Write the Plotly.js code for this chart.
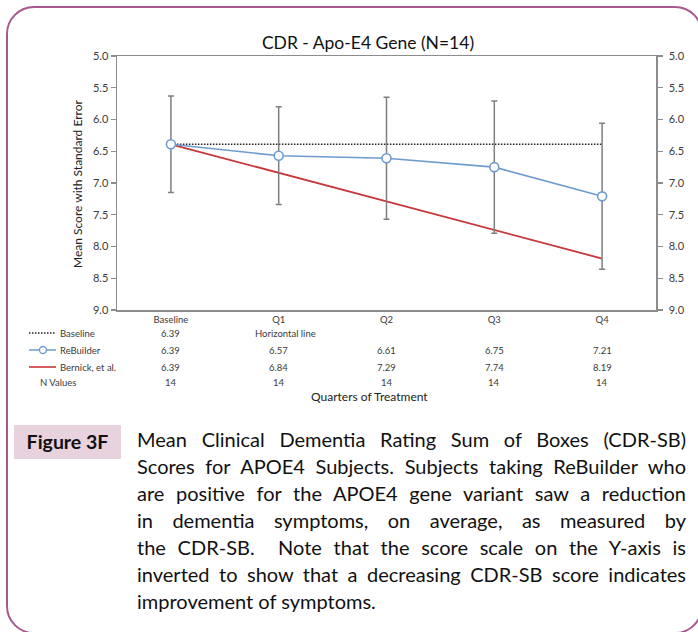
<!DOCTYPE html>
<html>
<head>
<meta charset="utf-8">
<script src="https://cdn.plot.ly/plotly-3.0.1.min.js"></script>
<style>
    html, body { margin: 0; padding: 0; background: #fff; overflow: hidden; }
    body { width: 698px; height: 632px; position: relative; font-family: Lato, "Open Sans", sans-serif; }
    #card {
        position: absolute; left: 6px; top: 6px; width: 697px; height: 628px;
        border: 2px solid #a8588f; border-radius: 28px; box-sizing: border-box;
    }
    #plot { position: absolute; left: 0; top: 0; width: 698px; height: 410px; }
    #figlabel {
        position: absolute; left: 14px; top: 425px; width: 107px; height: 34px;
        background: #e7d2de; font-weight: bold; font-size: 19.5px; line-height: 34px;
        text-align: center; color: #111;
    }
    #caption {
        position: absolute; left: 137px; top: 426px; width: 549px;
        font-size: 20px; line-height: 27px; color: #111; white-space: nowrap;
    }
    #caption div { text-align: justify; text-align-last: justify; }
    #caption div:last-child { text-align-last: left; }
</style>
</head>
<body>
<div id="card"></div>
<div id="plot"></div>
<div id="figlabel">Figure 3F</div>
<div id="caption">
    <div>Mean Clinical Dementia Rating Sum of Boxes (CDR-SB)</div>
    <div>Scores for APOE4 Subjects. Subjects taking ReBuilder who</div>
    <div>are positive for the APOE4 gene variant saw a reduction</div>
    <div>in dementia symptoms, on average, as measured by</div>
    <div>the CDR-SB.&nbsp; Note that the score scale on the Y-axis is</div>
    <div>inverted to show that a decreasing CDR-SB score indicates</div>
    <div>improvement of symptoms.</div>
</div>
<script>
// Chart data.
var quarters = ['Baseline', 'Q1', 'Q2', 'Q3', 'Q4'];
var baselineLine = [6.39, 6.39, 6.39, 6.39, 6.39];
var rebuilder = [6.39, 6.57, 6.61, 6.75, 7.21];
var rebuilderErr = [0.76, 0.77, 0.96, 1.04, 1.15];
var bernick = [6.39, 6.84, 7.29, 7.74, 8.19];
var nValues = [14, 14, 14, 14, 14];
var yTicks = [5.0, 5.5, 6.0, 6.5, 7.0, 7.5, 8.0, 8.5, 9.0];

document.addEventListener('DOMContentLoaded', function () {
    // plot area box in pixels
    var W = 698, H = 410;
    var m = { l: 117, r: 42, t: 56, b: 100 };
    var pw = W - m.l - m.r, ph = H - m.t - m.b;
    // helpers to turn pixel positions into paper fractions
    function xp(px) { return (px - m.l) / pw; }
    function yp(py) { return (m.t + ph - py) / ph; }

    var font = 'Lato, "Open Sans", sans-serif';
    var grey = '#8c8c8c';
    var txt = '#3a3a3a';
    var blue = '#6e9bcf';
    var red = '#c8363a';
    var dots = '1.5px,1.5px';
    var idx = quarters.map(function (q, i) { return i; });

    var traces = [
        {
            x: idx, y: baselineLine, name: 'Baseline',
            type: 'scatter', mode: 'lines',
            line: { color: '#222', width: 1.5, dash: dots }
        },
        {
            x: idx, y: bernick, name: 'Bernick, et al.',
            type: 'scatter', mode: 'lines',
            line: { color: red, width: 1.8 }
        },
        {
            x: idx, y: rebuilder, name: 'ReBuilder',
            type: 'scatter', mode: 'lines+markers',
            line: { color: blue, width: 1.6 },
            marker: { size: 9, color: '#fff', line: { color: blue, width: 1.6 } },
            error_y: { type: 'data', array: rebuilderErr, visible: true,
                       color: '#7f7f7f', thickness: 1.5, width: 3 }
        },
        {
            // invisible helper so the right axis shows
            x: idx, y: rebuilder, yaxis: 'y2', type: 'scatter', mode: 'none',
            hoverinfo: 'skip', showlegend: false
        }
    ];

    // table under the chart
    var ann = [];
    var rowFont = { family: font, size: 9.5, color: txt };
    function rowText(y, label, lx, vals) {
        ann.push({ xref: 'paper', yref: 'paper', x: xp(lx), y: yp(y), text: label,
                   xanchor: 'left', yanchor: 'middle', showarrow: false, font: rowFont });
        vals.forEach(function (v, i) {
            if (v === null) return;
            ann.push({ xref: 'x', yref: 'paper', x: i, y: yp(y), text: String(v),
                       xanchor: 'center', yanchor: 'middle', showarrow: false, font: rowFont });
        });
    }
    rowText(333, 'Baseline', 58, [baselineLine[0].toFixed(2), null, null, null, null]);
    ann.push({ xref: 'paper', yref: 'paper', x: xp(253), y: yp(333), text: 'Horizontal line',
               xanchor: 'left', yanchor: 'middle', showarrow: false, font: rowFont });
    rowText(350, 'ReBuilder', 58, rebuilder.map(function (v) { return v.toFixed(2); }));
    rowText(367, 'Bernick, et al.', 58, bernick.map(function (v) { return v.toFixed(2); }));
    rowText(382, 'N Values', 38, nValues);

    // axis titles
    ann.push({ xref: 'paper', yref: 'paper', x: xp(369), y: yp(396), text: 'Quarters of Treatment',
               xanchor: 'center', yanchor: 'middle', showarrow: false,
               font: { family: font, size: 12, color: '#222' } });
    ann.push({ xref: 'paper', yref: 'paper', x: xp(77), y: yp(184), text: 'Mean Score with Standard Error',
               textangle: -90, xanchor: 'center', yanchor: 'middle', showarrow: false,
               font: { family: font, size: 12, color: '#222' } });

    // legend keys drawn in the table's first column
    var shapes = [
        { type: 'line', xref: 'paper', yref: 'paper', x0: xp(29), x1: xp(56), y0: yp(333), y1: yp(333),
          line: { color: '#222', width: 1.3, dash: dots } },
        { type: 'line', xref: 'paper', yref: 'paper', x0: xp(29), x1: xp(56), y0: yp(350), y1: yp(350),
          line: { color: blue, width: 1.5 } },
        { type: 'circle', xref: 'paper', yref: 'paper', x0: xp(39.5), x1: xp(46.5), y0: yp(346.5), y1: yp(353.5),
          fillcolor: '#fff', line: { color: blue, width: 1.3 } },
        { type: 'line', xref: 'paper', yref: 'paper', x0: xp(29), x1: xp(56), y0: yp(367), y1: yp(367),
          line: { color: red, width: 1.6 } }
    ];

    var yaxisBase = {
        range: [9.0, 5.0], tickvals: yTicks, ticktext: yTicks.map(function (v) { return v.toFixed(1); }),
        showgrid: false, zeroline: false, showline: true, linecolor: grey, linewidth: 1.5,
        ticks: 'outside', ticklen: 5, tickwidth: 1.2, tickcolor: grey,
        tickfont: { family: font, size: 11, color: txt }
    };

    var layout = {
        width: W, height: H,
        margin: m,
        paper_bgcolor: 'rgba(0,0,0,0)',
        plot_bgcolor: '#fff',
        showlegend: false,
        font: { family: font },
        title: {
            text: 'CDR - Apo-E4 Gene (N=14)',
            xref: 'paper', x: xp(368), xanchor: 'center',
            yref: 'container', y: 1 - 43 / H, yanchor: 'middle',
            font: { family: font, size: 17.5, color: '#111' }
        },
        xaxis: {
            range: [-0.5, 4.5], tickvals: idx, ticktext: quarters,
            showgrid: false, zeroline: false, showline: true, mirror: true,
            linecolor: grey, linewidth: 1.5, ticks: '',
            tickfont: { family: font, size: 9.5, color: txt }
        },
        yaxis: Object.assign({}, yaxisBase, { side: 'left' }),
        yaxis2: Object.assign({}, yaxisBase, { side: 'right', overlaying: 'y', ticklabelstandoff: 4 }),
        annotations: ann,
        shapes: shapes
    };

    var config = { staticPlot: true };
    var plotElement = document.getElementById('plot');
    if (plotElement) {
        Plotly.newPlot('plot', traces, layout, config);
    } else {
        console.error("No DOM element with id 'plot' exists on the page.");
    }
});
</script>
</body>
</html>
